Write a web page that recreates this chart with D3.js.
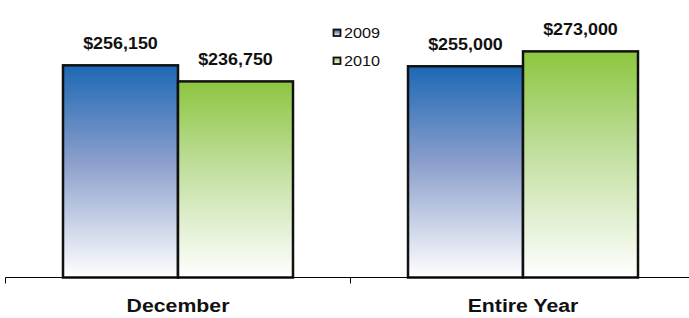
<!DOCTYPE html>
<html>
<head>
<meta charset="utf-8">
<script src="https://cdn.jsdelivr.net/npm/d3@7"></script>
<style>
  body { margin: 0; background: #fff; }
  svg { display: block; font-family: "Liberation Sans", Arial, sans-serif; }
</style>
</head>
<body>
<svg id="chart" width="689" height="318"></svg>
<script>
var categories = ['December', 'Entire Year'];
var seriesNames = ['2009', '2010'];
var values2009 = [256150, 255000];
var values2010 = [236750, 273000];

var svg = d3.select('#chart');
var defs = svg.append('defs');
var stretch = 1.12; // the source text is a bit wider than normal Arial

// vertical gradients: strong colour on top, fading to white
var grads = [
  { id: 'g2009', top: '#1c68b4', mid: '#8a9ecb', bot: '#ffffff' },
  { id: 'g2010', top: '#8cc63f', mid: '#c2dfa0', bot: '#ffffff' }
];
grads.forEach(function(g) {
  var lg = defs.append('linearGradient')
    .attr('id', g.id)
    .attr('x1', 0).attr('y1', 0).attr('x2', 0).attr('y2', 1);
  lg.append('stop').attr('offset', '0%').attr('stop-color', g.top);
  lg.append('stop').attr('offset', '45%').attr('stop-color', g.mid);
  lg.append('stop').attr('offset', '100%').attr('stop-color', g.bot);
});

var x0 = d3.scaleBand()
  .domain(categories)
  .range([5.5, 695.5])
  .paddingInner(0)
  .paddingOuter(0);

var x1 = d3.scaleBand()
  .domain(seriesNames)
  .range([0, x0.bandwidth()])
  .paddingInner(0)
  .paddingOuter(0.5);

var y = d3.scaleLinear()
  .domain([0, 300000])
  .range([277.5, 29]);

var data = categories.map(function(c, i) {
  return { cat: c, vals: [
    { s: '2009', v: values2009[i] },
    { s: '2010', v: values2010[i] }
  ] };
});

var fmt = function(v) { return '$' + d3.format(',')(v); };
var place = function(x, y) {
  return 'translate(' + x + ',' + y + ') scale(' + stretch + ',1)';
};

// bars
var groups = svg.selectAll('g.cat')
  .data(data)
  .enter().append('g')
  .attr('class', 'cat')
  .attr('transform', function(d) { return 'translate(' + x0(d.cat) + ',0)'; });

groups.selectAll('rect')
  .data(function(d) { return d.vals; })
  .enter().append('rect')
  .attr('x', function(d) { return x1(d.s); })
  .attr('y', function(d) { return y(d.v); })
  .attr('width', x1.bandwidth())
  .attr('height', function(d) { return y(0) - y(d.v); })
  .attr('fill', function(d) { return 'url(#g' + d.s + ')'; })
  .attr('stroke', '#111')
  .attr('stroke-width', 2.5);

// value labels
groups.selectAll('text.val')
  .data(function(d) { return d.vals; })
  .enter().append('text')
  .attr('class', 'val')
  .attr('transform', function(d) {
    return place(x1(d.s) + x1.bandwidth() / 2, y(d.v) - 16);
  })
  .attr('text-anchor', 'middle')
  .style('font-weight', 'bold')
  .style('font-size', '16px')
  .attr('fill', '#111')
  .text(function(d) { return fmt(d.v); });

// axis
var axis = svg.append('g')
  .attr('transform', 'translate(0,' + y(0) + ')');
axis.append('line')
  .attr('x1', x0.range()[0]).attr('x2', x0.range()[1])
  .attr('stroke', '#000').attr('stroke-width', 1);
axis.selectAll('line.tick')
  .data([x0.range()[0], x0(categories[1]), x0.range()[1]])
  .enter().append('line')
  .attr('class', 'tick')
  .attr('x1', function(d) { return d; }).attr('x2', function(d) { return d; })
  .attr('y1', 0).attr('y2', 6)
  .attr('stroke', '#000').attr('stroke-width', 1);

axis.selectAll('text.cat')
  .data(categories)
  .enter().append('text')
  .attr('class', 'cat')
  .attr('transform', function(d) { return place(x0(d) + x0.bandwidth() / 2, 34.5); })
  .attr('text-anchor', 'middle')
  .style('font-weight', 'bold')
  .style('font-size', '19px')
  .attr('fill', '#111')
  .text(function(d) { return d; });

// legend
var legend = svg.selectAll('g.legend')
  .data(seriesNames)
  .enter().append('g')
  .attr('class', 'legend')
  .attr('transform', function(d, i) { return 'translate(333.5,' + (29.5 + i * 28) + ')'; });

legend.append('rect')
  .attr('width', 7).attr('height', 6.5)
  .attr('fill', function(d) { return 'url(#g' + d + ')'; })
  .attr('stroke', '#111').attr('stroke-width', 1.8);

legend.append('text')
  .attr('transform', place(10.5, 8.8))
  .style('font-size', '14.5px')
  .attr('fill', '#111')
  .text(function(d) { return d; });
</script>
</body>
</html>
